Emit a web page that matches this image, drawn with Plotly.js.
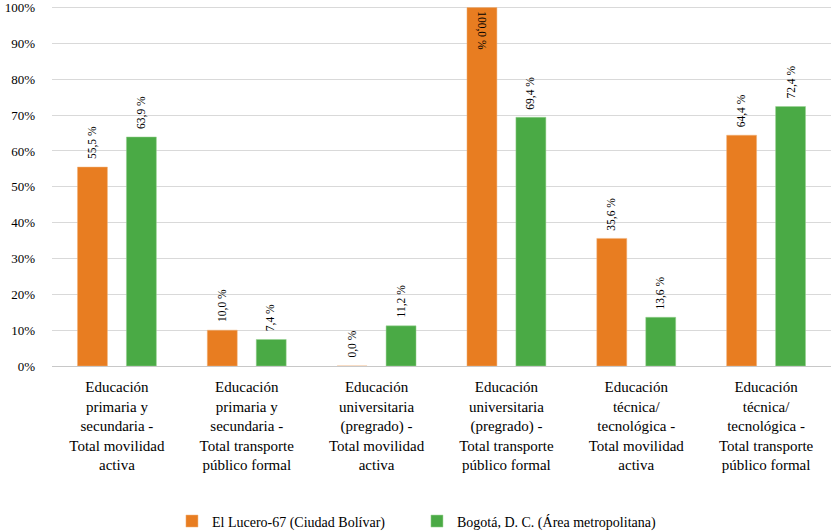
<!DOCTYPE html>
<html><head><meta charset="utf-8">
<script src="https://cdn.plot.ly/plotly-3.0.1.min.js"></script>
<style>html,body{margin:0;padding:0;background:#fff}
#chart svg text{font-family:"Liberation Serif","DejaVu Serif",serif !important;}</style>
</head><body><div id="chart" style="width:831px;height:531px"></div>
<script>
const categories = [
  "Educación<br>primaria y<br>secundaria -<br>Total movilidad<br>activa",
  "Educación<br>primaria y<br>secundaria -<br>Total transporte<br>público formal",
  "Educación<br>universitaria<br>(pregrado) -<br>Total movilidad<br>activa",
  "Educación<br>universitaria<br>(pregrado) -<br>Total transporte<br>público formal",
  "Educación<br>técnica/<br>tecnológica -<br>Total movilidad<br>activa",
  "Educación<br>técnica/<br>tecnológica -<br>Total transporte<br>público formal"
];
const seriesNames = ["El Lucero-67 (Ciudad Bolívar)", "Bogotá, D. C. (Área metropolitana)"];
const lucero = [55.5, 10.0, 0.0, 100.0, 35.6, 64.4];
const bogota = [63.9, 7.4, 11.2, 69.4, 13.6, 72.4];
const yTicks = [0,10,20,30,40,50,60,70,80,90,100];

const fmt = v => v.toFixed(1).replace('.', ',') + ' %';
const FONT = 'Liberation Serif';

const annotations = [];
function addLabels(vals, shift) {
  vals.forEach((v, i) => {
    const inside = v >= 99.5;
    annotations.push({
      x: categories[i], y: v, xref: 'x', yref: 'y',
      xshift: shift, yshift: inside ? -2 : 6,
      text: fmt(v), showarrow: false,
      textangle: inside ? 90 : -90,
      xanchor: 'center', yanchor: inside ? 'top' : 'bottom',
      font: {family: FONT, size: 11.5, color: '#000'}
    });
  });
}
addLabels(lucero, -24.5);
addLabels(bogota, 24.5);

const traces = [
  {type: 'bar', name: seriesNames[0], x: categories, y: lucero,
   marker: {color: '#E87D21', line: {color: '#F0B27A', width: 0.5}}, hoverinfo: 'none'},
  {type: 'bar', name: seriesNames[1], x: categories, y: bogota,
   marker: {color: '#4AAA45', line: {color: '#9BD393', width: 0.5}}, hoverinfo: 'none'}
];

const layout = {
  width: 831, height: 531,
  margin: {l: 52, r: 0, t: 4, b: 165},
  paper_bgcolor: '#fff', plot_bgcolor: '#fff',
  barmode: 'group', bargap: 0.246, bargroupgap: 0.388,
  font: {family: FONT, size: 13, color: '#000'},
  xaxis: {type: 'category', tickfont: {family: FONT, size: 15, color: '#000'},
          showgrid: false, ticks: '', showline: false, automargin: false, ticklabelstandoff: 10},
  yaxis: {range: [0, 101], tickvals: yTicks, ticktext: yTicks.map(t => t + '%'),
          tickfont: {family: FONT, size: 13, color: '#000'}, ticklabeloverflow: 'allow',
          gridcolor: '#d9d9d9', gridwidth: 1, zeroline: true, zerolinecolor: '#c8c8c8',
          zerolinewidth: 1, ticks: '', ticklabelstandoff: 16, automargin: false},
  showlegend: true,
  legend: {orientation: 'h', x: 0.154, xanchor: 'left', yref: 'container', y: 0.018, yanchor: 'middle',
           font: {family: FONT, size: 14, color: '#000'}, itemwidth: 30, tracegroupgap: 0,
           entrywidth: 200, traceorder: 'normal'},
  annotations: annotations
};
Plotly.newPlot('chart', traces, layout, {displayModeBar: false, staticPlot: true});
</script></body></html>
